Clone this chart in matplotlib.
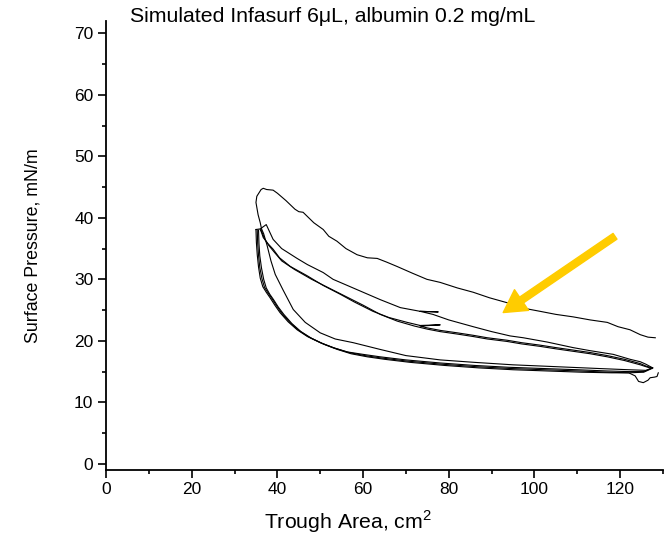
import matplotlib
matplotlib.use('Agg')
import matplotlib.pyplot as plt
from matplotlib.ticker import MultipleLocator

plt.rcParams['font.family'] = ['Liberation Sans', 'DejaVu Sans']
plt.rcParams['mathtext.fontset'] = 'custom'
plt.rcParams['mathtext.rm'] = 'Liberation Sans'

# first compression (top curve), right to left
comp1_x = [128.2, 126.5, 124.7, 122.3, 119.5, 117.0, 113.0, 109.0, 105.0, 101.3, 97.5, 93.6,
           89.5, 85.7, 82.0, 78.0, 74.9, 71.5, 67.9, 65.5, 63.3, 61.0, 58.6, 56.0, 53.9, 52.0,
           50.7, 48.5, 46.0, 45.0, 44.1, 42.0, 40.0, 39.0, 37.5, 36.7, 36.2, 35.2, 35.0, 35.5,
           36.0, 36.3]
comp1_y = [20.5, 20.6, 21.0, 21.8, 22.3, 23.0, 23.4, 23.9, 24.3, 24.8, 25.3, 26.2,
           27.0, 27.9, 28.6, 29.5, 30.0, 31.0, 32.1, 32.8, 33.4, 33.5, 34.0, 35.0, 36.2, 37.0,
           38.1, 39.2, 40.9, 41.0, 41.4, 42.8, 44.0, 44.5, 44.6, 44.8, 44.6, 43.5, 42.5, 40.5,
           39.2, 38.2]

# first expansion
exp1_x = [36.3, 36.8, 37.6, 38.5, 39.5, 41.3, 43.7, 46.5, 50.0, 53.5, 57.7, 64.0, 70.0,
          78.0, 86.0, 95.0, 105.0, 115.0, 122.0, 126.0, 127.6]
exp1_y = [38.2, 37.4, 35.5, 33.0, 30.8, 28.3, 25.1, 23.0, 21.3, 20.3, 19.7, 18.6, 17.6,
          16.9, 16.5, 16.1, 15.8, 15.5, 15.3, 15.2, 15.6]

# second compression
comp2_x = [127.6, 126.0, 124.7, 122.3, 118.4, 113.0, 109.0, 103.0, 97.4, 94.3, 90.0, 85.7,
           80.0, 76.3, 73.3, 77.5, 73.3, 68.7, 64.0, 60.0, 57.0, 53.0, 50.7, 47.0, 44.6,
           41.0, 39.0, 37.4, 36.8, 36.0, 35.0]
comp2_y = [15.6, 16.2, 16.6, 17.0, 17.8, 18.4, 18.9, 19.8, 20.5, 20.8, 21.5, 22.3,
           23.4, 24.3, 24.8, 24.7, 24.8, 25.4, 26.7, 27.9, 28.8, 30.0, 31.1, 32.4, 33.4,
           35.0, 36.5, 38.9, 38.6, 38.2, 38.1]

# later expansions
exp2_x = [35.0, 35.1, 35.3, 35.6, 36.0, 36.6, 37.4, 38.3, 39.4, 40.6, 42.5, 44.6, 47.0,
          50.0, 53.0, 56.3, 60.0, 64.0, 70.0, 78.0, 86.0, 94.0, 102.0, 110.0, 117.0,
          122.0, 125.5, 127.5]
exp2_y = [38.1, 36.0, 34.0, 32.0, 30.2, 28.8, 27.9, 27.0, 25.8, 24.6, 23.1, 21.8, 20.7,
          19.7, 18.9, 18.2, 17.8, 17.4, 16.9, 16.4, 16.0, 15.7, 15.5, 15.3, 15.1,
          15.0, 15.0, 15.6]
exp3_x = [35.3, 35.4, 35.6, 35.9, 36.4, 37.0, 37.8, 38.7, 39.8, 41.0, 42.9, 45.0, 47.4,
          50.4, 53.4, 56.7, 60.4, 64.4, 70.4, 78.4, 86.4, 94.4, 102.4, 110.4, 117.4,
          122.0, 125.5, 127.4]
exp3_y = [38.0, 35.9, 33.9, 31.9, 30.1, 28.7, 27.8, 26.9, 25.7, 24.5, 23.0, 21.7, 20.6,
          19.6, 18.8, 18.1, 17.6, 17.2, 16.7, 16.2, 15.8, 15.5, 15.3, 15.1, 14.9,
          14.8, 14.9, 15.5]
exp4_x = [35.6, 35.7, 35.9, 36.3, 36.8, 37.4, 38.2, 39.1, 40.2, 41.5, 43.4, 45.5, 48.0,
          51.0, 54.0, 57.2, 61.0, 65.0, 71.0, 79.0, 87.0, 95.0, 103.0, 111.0, 118.0,
          122.0, 123.5, 124.3, 125.4, 126.5, 127.0, 128.0, 128.6, 128.9]
exp4_y = [38.0, 35.8, 33.8, 31.8, 30.0, 28.6, 27.6, 26.7, 25.5, 24.3, 22.8, 21.5, 20.4,
          19.4, 18.6, 17.9, 17.4, 17.0, 16.5, 16.0, 15.6, 15.3, 15.1, 14.9, 14.8,
          14.8, 14.3, 13.4, 13.2, 13.6, 14.0, 14.1, 14.2, 14.8]

# third and fourth compressions
comp3_x = [127.5, 126.0, 124.7, 121.0, 117.0, 113.0, 109.0, 105.0, 101.3, 97.0, 93.6, 89.0,
           85.7, 82.0, 78.0, 75.0, 73.3, 78.0, 73.3, 70.3, 66.0, 62.3, 58.0, 54.6, 50.7,
           46.9, 43.0, 40.5, 39.0, 37.8, 36.7, 36.3, 36.0]
comp3_y = [15.6, 15.9, 16.3, 17.0, 17.6, 18.1, 18.5, 18.9, 19.3, 19.7, 20.1, 20.5,
           20.9, 21.3, 21.7, 22.1, 22.4, 22.6, 22.5, 23.0, 23.8, 24.8, 26.3, 27.6, 29.0,
           30.6, 32.1, 33.5, 34.9, 35.8, 36.8, 37.6, 38.1]
comp4_x = [127.4, 126.0, 124.7, 121.0, 117.0, 113.0, 109.0, 105.0, 101.3, 97.0, 93.6, 89.0,
           85.7, 82.0, 78.0, 75.0, 72.0, 68.0, 64.0, 60.0, 56.0, 52.0, 48.0, 44.0, 41.0,
           39.3, 38.0, 37.0, 36.5, 36.2]
comp4_y = [15.5, 15.8, 16.1, 16.8, 17.4, 17.9, 18.3, 18.7, 19.1, 19.5, 19.9, 20.3,
           20.7, 21.1, 21.5, 21.9, 22.4, 23.2, 24.3, 25.8, 27.2, 28.6, 30.0, 31.6, 33.0,
           34.4, 35.5, 36.6, 37.5, 38.0]

curves = [(comp1_x, comp1_y), (exp1_x, exp1_y), (comp2_x, comp2_y), (exp2_x, exp2_y),
          (comp3_x, comp3_y), (exp3_x, exp3_y), (comp4_x, comp4_y), (exp4_x, exp4_y)]

arrow_tail = (118.8, 37.0)
arrow_tip = (92.7, 24.6)

fig = plt.figure(figsize=(6.64, 5.43), dpi=100)
ax = fig.add_axes([106 / 664, 73 / 543, 557 / 664, 449 / 543])

for cx, cy in curves:
    ax.plot(cx, cy, color='black', lw=0.8)

ax.annotate('', xy=arrow_tip, xytext=arrow_tail,
            arrowprops=dict(color='#FFCC00', width=5, headwidth=18, headlength=16, shrink=0))

ax.set_xlim(0, 130)
ax.set_ylim(-1, 72)
ax.xaxis.set_major_locator(MultipleLocator(20))
ax.xaxis.set_minor_locator(MultipleLocator(10))
ax.yaxis.set_major_locator(MultipleLocator(10))
ax.yaxis.set_minor_locator(MultipleLocator(5))
ax.spines['top'].set_visible(False)
ax.spines['right'].set_visible(False)
for s in ['left', 'bottom']:
    ax.spines[s].set_linewidth(1.3)
ax.tick_params(which='major', direction='out', length=6, width=1.2, labelsize=12.5, pad=3)
ax.tick_params(which='minor', direction='out', length=3, width=1.2)

ax.set_xlabel('Trough Area, cm$^2$', fontsize=15.3)
ax.xaxis.set_label_coords(0.434, -0.085)
ax.set_ylabel('Surface Pressure, mN/m', fontsize=12.8)
ax.yaxis.set_label_coords(-0.115, 0.5)

fig.text(130 / 664, 1 - 17 / 543, 'Simulated Infasurf 6\u03bcL, albumin 0.2 mg/mL',
         fontsize=15.3, ha='left', va='center')

fig.savefig('out.png', dpi=100)
